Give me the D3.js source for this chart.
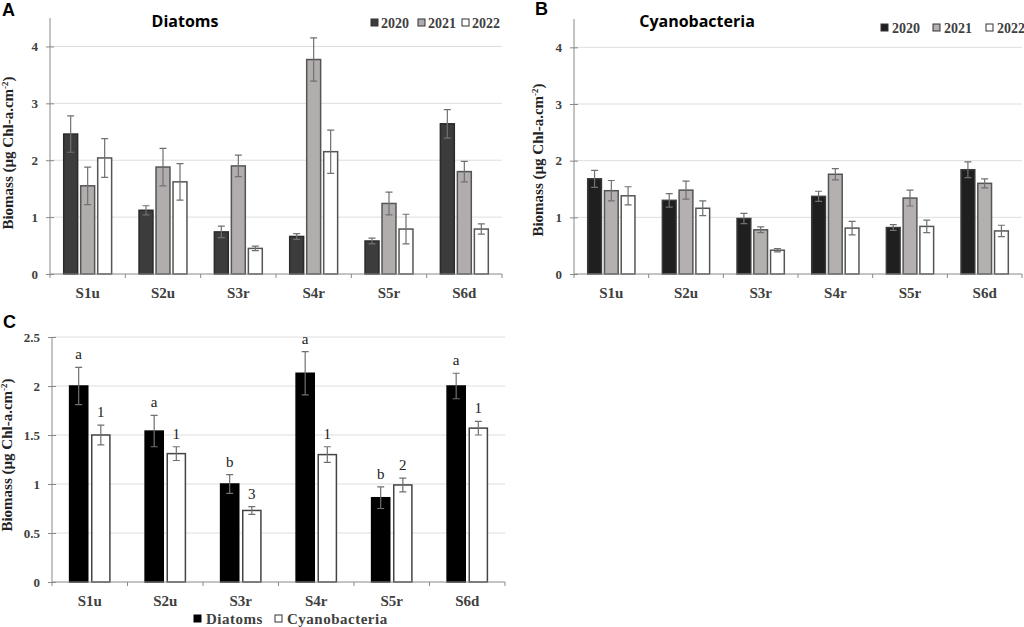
<!DOCTYPE html>
<html>
<head>
<meta charset="utf-8">
<script src="https://cdn.jsdelivr.net/npm/d3@7"></script>
<style>
  body { margin: 0; background: #fff; }
</style>
</head>
<body>
<div id="master"></div>
<script>
// data
const sites = ["S1u", "S2u", "S3r", "S4r", "S5r", "S6d"]
const years = ["2020", "2021", "2022"]

const diatoms2020 = [2.46, 1.12, 0.74, 0.66, 0.58, 2.64]
const diatoms2021 = [1.55, 1.88, 1.90, 3.77, 1.24, 1.80]
const diatoms2022 = [2.04, 1.62, 0.45, 2.15, 0.79, 0.79]
const diatomsErr2020 = [0.32, 0.08, 0.10, 0.05, 0.05, 0.25]
const diatomsErr2021 = [0.33, 0.33, 0.19, 0.38, 0.20, 0.18]
const diatomsErr2022 = [0.34, 0.32, 0.04, 0.38, 0.26, 0.09]

const cyano2020 = [1.68, 1.30, 0.98, 1.37, 0.82, 1.84]
const cyano2021 = [1.47, 1.48, 0.78, 1.76, 1.34, 1.60]
const cyano2022 = [1.38, 1.16, 0.42, 0.81, 0.84, 0.76]
const cyanoErr2020 = [0.15, 0.12, 0.09, 0.09, 0.05, 0.14]
const cyanoErr2021 = [0.18, 0.16, 0.05, 0.10, 0.14, 0.08]
const cyanoErr2022 = [0.16, 0.13, 0.03, 0.12, 0.11, 0.10]

const meanDiatoms = [2.00, 1.54, 1.00, 2.13, 0.86, 2.00]
const meanDiatomsErr = [0.19, 0.16, 0.095, 0.22, 0.11, 0.13]
const meanCyano = [1.50, 1.31, 0.73, 1.30, 0.99, 1.57]
const meanCyanoErr = [0.10, 0.07, 0.04, 0.08, 0.07, 0.07]
const diatomLetters = ["a", "a", "b", "a", "b", "a"]
const cyanoLetters = ["1", "1", "3", "1", "2", "1"]

const ticksAB = [0, 1, 2, 3, 4]
const ticksC = [0, 0.5, 1, 1.5, 2, 2.5]

const svg = d3.select("#master").append("svg")
  .attr("width", 1024).attr("height", 627)
  .attr("font-family", "Liberation Serif")

const textGray = "#404040"

drawPanel = (opt) => {
  let g = svg.append("g")
  let x0 = d3.scaleBand().domain(sites).range([opt.left, opt.right])
  let x1 = d3.scaleBand().domain(opt.series.map(s => s.name))
    .range([opt.inset, x0.bandwidth() - opt.inset]).paddingInner(0.18)
  let y = d3.scaleLinear().domain([0, opt.max]).range([opt.bottom, opt.top])

  // grid
  g.selectAll(".grid").data(opt.ticks.filter(t => t > 0)).enter().append("line")
    .attr("x1", opt.left).attr("x2", opt.right)
    .attr("y1", d => y(d)).attr("y2", d => y(d))
    .attr("stroke", "#dedede")

  // bars
  opt.series.forEach(s => {
    let bars = g.append("g")
    bars.selectAll("rect").data(s.values).enter().append("rect")
      .attr("x", (d, i) => x0(sites[i]) + x1(s.name))
      .attr("y", d => y(d))
      .attr("width", x1.bandwidth())
      .attr("height", d => y(0) - y(d))
      .attr("fill", s.fill).attr("stroke", s.stroke).attr("stroke-width", 1.5)
    let cx = i => x0(sites[i]) + x1(s.name) + x1.bandwidth() / 2
    bars.selectAll(".err").data(s.values).enter().append("path")
      .attr("d", (d, i) => {
        let hi = y(d + s.err[i]), lo = y(d - s.err[i]), c = cx(i)
        return `M${c},${hi}V${lo}M${c - 3.5},${hi}H${c + 3.5}M${c - 3.5},${lo}H${c + 3.5}`
      })
      .attr("stroke", "#707070").attr("stroke-width", 1.2).attr("fill", "none")
    if (s.letters) {
      bars.selectAll(".lab").data(s.values).enter().append("text")
        .attr("x", (d, i) => cx(i))
        .attr("y", (d, i) => y(d + s.err[i]) - 8)
        .attr("text-anchor", "middle")
        .attr("font-size", 15).attr("fill", "#222")
        .text((d, i) => s.letters[i])
    }
  })

  // y axis
  let yAxis = d3.axisLeft(y).tickValues(opt.ticks).tickFormat(d => d).tickSize(4).tickPadding(8)
  let ya = g.append("g").attr("transform", `translate(${opt.left},0)`).call(yAxis)
  ya.select(".domain").attr("stroke", "#888").attr("d", `M0,${opt.bottom}V${opt.top}`)
  ya.selectAll(".tick line").attr("stroke", "#888").attr("x1", -4).attr("x2", 4)
  ya.selectAll(".tick text").attr("font-family", "Liberation Serif").attr("font-weight", "bold")
    .attr("font-size", 13).attr("fill", textGray)

  // x axis
  let xa = g.append("g").attr("transform", `translate(0,${opt.bottom})`)
    .call(d3.axisBottom(x0).tickSize(0).tickPadding(13))
  xa.select(".domain").attr("stroke", "#888").attr("d", `M${opt.left},0H${opt.right}`)
  xa.selectAll(".tick text").attr("font-family", "Liberation Serif").attr("font-weight", "bold")
    .attr("font-size", 15).attr("fill", textGray)
  xa.selectAll(".sep").data(sites.map(s => x0(s)).concat([opt.right])).enter().append("line")
    .attr("x1", d => d).attr("x2", d => d).attr("y1", 0).attr("y2", 4).attr("stroke", "#888")

  // y label
  let yl = g.append("text")
    .attr("transform", `translate(${opt.ylabX},${opt.ylabY}) rotate(-90)`)
    .attr("text-anchor", "middle").attr("font-weight", "bold").attr("font-size", 15)
    .attr("fill", "#222")
  yl.append("tspan").text("Biomass (µg Chl-a.cm")
  yl.append("tspan").attr("font-size", 9).attr("dy", -5).text("-2")
  yl.append("tspan").attr("dy", 5).text(")")

  // panel letter
  g.append("text").attr("x", opt.letterX).attr("y", opt.letterY)
    .attr("font-family", "Liberation Sans").attr("font-weight", "bold").attr("font-size", 18)
    .text(opt.letter)

  if (opt.title) {
    g.append("text").attr("x", opt.titleX).attr("y", 27).attr("text-anchor", "middle")
      .attr("font-family", "Open Sans").attr("font-weight", "bold").attr("font-size", 16)
      .text(opt.title)
  }

  // legend
  let lg = g.append("g")
  opt.series.forEach((s, i) => {
    let lx = opt.legendX[i]
    lg.append("rect").attr("x", lx).attr("y", opt.legendY - 9)
      .attr("width", 7).attr("height", 7)
      .attr("fill", s.fill).attr("stroke", s.stroke === "#000" ? "#000" : "#333").attr("stroke-width", 1)
    lg.append("text").attr("x", lx + opt.legendGap).attr("y", opt.legendY)
      .attr("font-weight", "bold").attr("font-size", opt.legendSize)
      .attr("letter-spacing", opt.legendSpacing || 0)
      .attr("fill", textGray).text(s.name)
  })
}

drawPanel({
  left: 50, right: 502, top: 18, bottom: 274, max: 4.5,
  ticks: ticksAB, inset: 13.7,
  series: [
    { name: years[0], values: diatoms2020, err: diatomsErr2020, fill: "#3c3c3c", stroke: "#2a2a2a" },
    { name: years[1], values: diatoms2021, err: diatomsErr2021, fill: "#b1adad", stroke: "#555" },
    { name: years[2], values: diatoms2022, err: diatomsErr2022, fill: "#fff", stroke: "#555" }
  ],
  ylabX: 13, ylabY: 153, letter: "A", letterX: 2, letterY: 16,
  title: "Diatoms", titleX: 185,
  legendX: [371, 418, 462], legendGap: 10, legendY: 28, legendSize: 14
})

drawPanel({
  left: 574, right: 1022, top: 19, bottom: 274, max: 4.5,
  ticks: ticksAB, inset: 13.7,
  series: [
    { name: years[0], values: cyano2020, err: cyanoErr2020, fill: "#1f1f1f", stroke: "#3a3a3a" },
    { name: years[1], values: cyano2021, err: cyanoErr2021, fill: "#b4b0b0", stroke: "#555" },
    { name: years[2], values: cyano2022, err: cyanoErr2022, fill: "#fff", stroke: "#555" }
  ],
  ylabX: 543, ylabY: 160, letter: "B", letterX: 535, letterY: 15,
  title: "Cyanobacteria", titleX: 697,
  legendX: [881, 933, 986], legendGap: 11, legendY: 33, legendSize: 14
})

drawPanel({
  left: 52, right: 505, top: 337, bottom: 582, max: 2.5,
  ticks: ticksC, inset: 17.6,
  series: [
    { name: "Diatoms", values: meanDiatoms, err: meanDiatomsErr, fill: "#000", stroke: "#000", letters: diatomLetters },
    { name: "Cyanobacteria", values: meanCyano, err: meanCyanoErr, fill: "#fff", stroke: "#444", letters: cyanoLetters }
  ],
  ylabX: 12, ylabY: 455, letter: "C", letterX: 3, letterY: 328,
  legendX: [194, 275], legendGap: 12, legendY: 624, legendSize: 15, legendSpacing: 0.5
})
</script>
</body>
</html>
